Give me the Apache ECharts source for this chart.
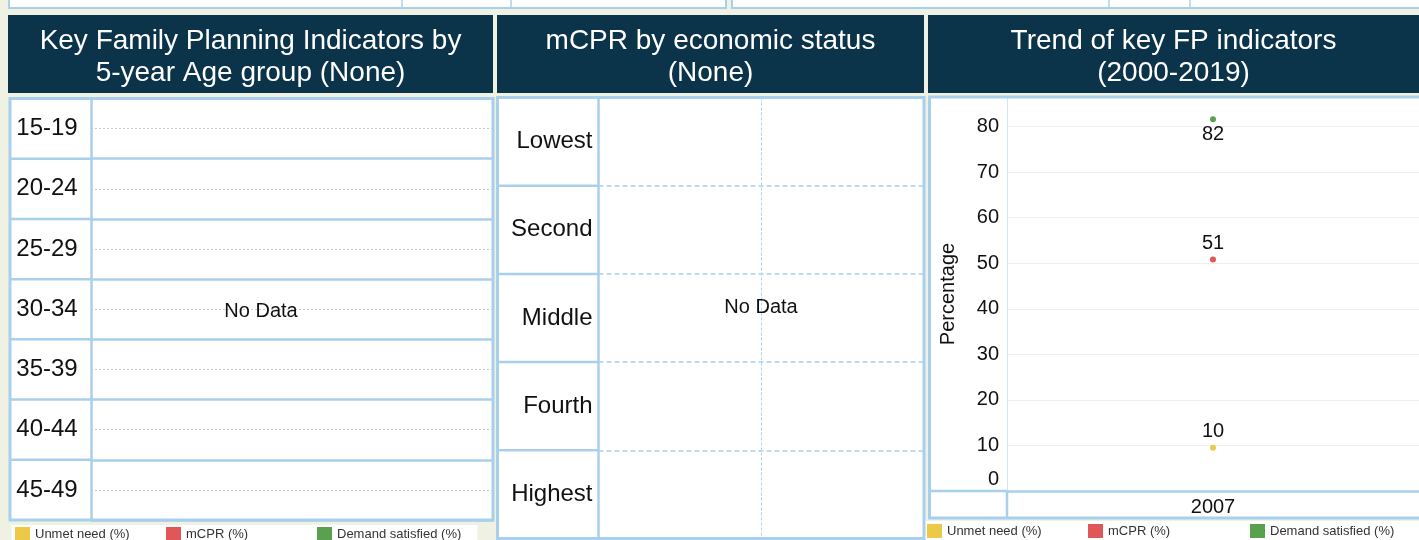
<!DOCTYPE html>
<html>
<head>
<meta charset="utf-8">
<title>Key FP indicators</title>
<script src="https://cdn.jsdelivr.net/npm/echarts@6/dist/echarts.min.js"></script>
<style>
html, body { margin: 0; padding: 0; background: #eff2e3; }
#main { width: 1419px; height: 540px; }
</style>
</head>
<body>
<div id="main"></div>
<script>
// data
var ageGroups = ['15-19', '20-24', '25-29', '30-34', '35-39', '40-44', '45-49'];
var wealthQuintiles = ['Lowest', 'Second', 'Middle', 'Fourth', 'Highest'];
var years = ['2007'];
var unmetNeed = [9.5];
var mcpr = [50.8];
var demandSatisfied = [81.6];
var seriesNames = ['Unmet need (%)', 'mCPR (%)', 'Demand satisfied (%)'];
var seriesColors = ['#edc948', '#e15759', '#59a14f'];

var FONT = '"Liberation Sans", Arial, sans-serif';
var BLUE = '#a8cfeb';
var NAVY = '#0b3349';
var INK = '#111111';

// panel boxes (layout only)
var L = { x0: 10, x1: 493, col: 91, top: 98.5, bottom: 520 };
var M = { x0: 497.5, x1: 924, col: 598.5, top: 97.5, bottom: 538.5 };
var R = { x0: 929.5, x1: 1419, col: 1007, top: 97, axis: 491, bottom: 518 };

var myChart = echarts.init(document.getElementById('main'));

function pair(arr) {
	return years.map(function (y, i) { return [y, arr[i]]; });
}

function pointLabel(pos, dist) {
	return {
		show: true, position: pos, distance: dist, fontSize: 20, color: INK,
		formatter: function (p) { return Math.round(p.value[1]); }
	};
}

// one legend block per entry so the spacing stays fixed
function legendRow(lefts, top) {
	return seriesNames.map(function (name, k) {
		return {
			data: [name], left: lefts[k], top: top, padding: 0, icon: 'rect',
			itemWidth: 15, itemHeight: 14, selectedMode: false,
			textStyle: { fontSize: 13, color: '#333' }
		};
	});
}

var graphics = [];

// strip of boxes cut off at the top
graphics.push({ type: 'rect', z: -5, shape: { x: 9, y: -4, width: 717, height: 12 }, style: { fill: '#fff', stroke: BLUE, lineWidth: 2 } });
graphics.push({ type: 'rect', z: -5, shape: { x: 732, y: -4, width: 700, height: 12 }, style: { fill: '#fff', stroke: BLUE, lineWidth: 2 } });
[402, 511, 1109, 1190].forEach(function (x) {
	graphics.push({ type: 'line', z: -4, shape: { x1: x, y1: 0, x2: x, y2: 8 }, style: { stroke: BLUE, lineWidth: 1.5 } });
});

// headers
var headers = [
	{ x0: 8, x1: 493, text: 'Key Family Planning Indicators by\n5-year Age group (None)' },
	{ x0: 497, x1: 924, text: 'mCPR by economic status\n(None)' },
	{ x0: 928, x1: 1419, text: 'Trend of key FP indicators\n(2000-2019)' }
];
headers.forEach(function (h) {
	graphics.push({ type: 'rect', z: -5, shape: { x: h.x0, y: 15, width: h.x1 - h.x0, height: 78 }, style: { fill: NAVY } });
	graphics.push({
		type: 'text', z: 60, x: (h.x0 + h.x1) / 2, y: 57,
		style: { text: h.text, fill: '#fff', fontSize: 28, fontFamily: FONT, align: 'center', verticalAlign: 'middle', lineHeight: 32 }
	});
});

// white panel backgrounds
graphics.push({ type: 'rect', z: -5, shape: { x: L.x0, y: L.top, width: L.x1 - L.x0, height: L.bottom - L.top }, style: { fill: '#fff' } });
graphics.push({ type: 'rect', z: -5, shape: { x: M.x0, y: M.top, width: M.x1 - M.x0, height: M.bottom - M.top }, style: { fill: '#fff' } });
graphics.push({ type: 'rect', z: -5, shape: { x: R.x0, y: R.top, width: 500, height: R.bottom - R.top }, style: { fill: '#fff' } });
// legend backgrounds
graphics.push({ type: 'rect', z: -5, shape: { x: 11.5, y: 525, width: 466, height: 20 }, style: { fill: '#fff' } });
graphics.push({ type: 'rect', z: -5, shape: { x: 925, y: 521, width: 500, height: 24 }, style: { fill: '#fff' } });

// row dividers in the label columns
var i, y;
for (i = 1; i < ageGroups.length; i++) {
	y = L.top + i * (L.bottom - L.top) / ageGroups.length;
	graphics.push({ type: 'line', z: 50, shape: { x1: L.x0, y1: y, x2: L.col, y2: y }, style: { stroke: BLUE, lineWidth: 2.5 } });
}
for (i = 1; i < wealthQuintiles.length; i++) {
	y = M.top + i * (M.bottom - M.top) / wealthQuintiles.length;
	graphics.push({ type: 'line', z: 50, shape: { x1: M.x0, y1: y, x2: M.col, y2: y }, style: { stroke: BLUE, lineWidth: 2.5 } });
}
// bottom row of the trend panel
graphics.push({ type: 'line', z: 50, shape: { x1: R.x0, y1: R.axis, x2: R.col, y2: R.axis }, style: { stroke: BLUE, lineWidth: 2.5 } });
graphics.push({ type: 'line', z: 50, shape: { x1: R.col, y1: R.axis, x2: R.col, y2: R.bottom }, style: { stroke: BLUE, lineWidth: 2.5 } });

// outer borders
graphics.push({ type: 'rect', z: 55, shape: { x: L.x0, y: L.top, width: L.x1 - L.x0, height: L.bottom - L.top }, style: { fill: 'none', stroke: BLUE, lineWidth: 3 } });
graphics.push({ type: 'rect', z: 55, shape: { x: M.x0, y: M.top, width: M.x1 - M.x0, height: M.bottom - M.top }, style: { fill: 'none', stroke: BLUE, lineWidth: 3 } });
graphics.push({ type: 'rect', z: 55, shape: { x: R.x0, y: R.top, width: 500, height: R.bottom - R.top }, style: { fill: 'none', stroke: BLUE, lineWidth: 3 } });

// empty panels
graphics.push({ type: 'text', z: 60, x: 261, y: 311, style: { text: 'No Data', fill: INK, fontSize: 20, fontFamily: FONT, align: 'center', verticalAlign: 'middle' } });
graphics.push({ type: 'text', z: 60, x: 761, y: 307, style: { text: 'No Data', fill: INK, fontSize: 20, fontFamily: FONT, align: 'center', verticalAlign: 'middle' } });

var option = {
	animation: false,
	textStyle: { fontFamily: FONT },
	graphic: graphics,
	grid: [
		{ left: L.col, top: L.top, width: L.x1 - L.col, height: L.bottom - L.top, outerBoundsMode: 'none' },
		{ left: M.col, top: M.top, width: M.x1 - M.col, height: M.bottom - M.top, outerBoundsMode: 'none' },
		{ left: R.col, top: R.top, width: R.x1 - R.col, height: R.axis - R.top, outerBoundsMode: 'none' }
	],
	xAxis: [
		{ gridIndex: 0, type: 'value', show: false },
		{
			gridIndex: 1, type: 'value', min: -1, max: 1, interval: 1,
			axisLine: { show: false }, axisTick: { show: false }, axisLabel: { show: false },
			splitLine: { show: true, lineStyle: { color: '#b3d4ee', type: [3, 2], width: 1 } }
		},
		{
			gridIndex: 2, type: 'category', data: years,
			axisLine: { show: true, lineStyle: { color: BLUE, width: 2.5 } },
			axisTick: { show: false },
			axisLabel: { fontSize: 20, color: INK, margin: 6 },
			splitLine: { show: false }
		}
	],
	yAxis: [
		{
			gridIndex: 0, type: 'category', data: ageGroups, inverse: true,
			axisLine: { show: true, onZero: false, lineStyle: { color: BLUE, width: 2.5 } },
			axisTick: { show: true, inside: true, alignWithLabel: true, length: L.x1 - L.col, lineStyle: { color: '#c8c8c8', type: [2, 2], width: 1 } },
			axisLabel: { fontSize: 24, color: INK, align: 'center', margin: L.col - 47 },
			splitLine: { show: true, lineStyle: { color: BLUE, width: 2.5 } }
		},
		{
			gridIndex: 1, type: 'category', data: wealthQuintiles, inverse: true,
			axisLine: { show: true, onZero: false, lineStyle: { color: BLUE, width: 2.5 } },
			axisTick: { show: false },
			axisLabel: { fontSize: 24, color: INK, margin: 6 },
			splitLine: { show: true, lineStyle: { color: '#a9d0ec', type: [5, 3], width: 1.5 } }
		},
		{
			gridIndex: 2, type: 'value', min: 0, max: 86.5, interval: 10,
			name: 'Percentage', nameLocation: 'middle', nameGap: 49, nameRotate: 90,
			nameTextStyle: { fontSize: 20, color: INK },
			axisLine: { show: true, lineStyle: { color: '#d3e5f3', width: 1 } },
			axisTick: { show: false },
			axisLabel: {
				fontSize: 20, color: INK, margin: 8, showMaxLabel: false,
				formatter: function (v) { return v === 0 ? '{zero|0}' : String(v); },
				rich: { zero: { fontSize: 20, color: INK, padding: [0, 0, 24, 0] } }
			},
			splitLine: { show: true, lineStyle: { color: '#eeeeee', width: 1 } }
		}
	],
	legend: legendRow([15, 166, 317], 527).concat(legendRow([927, 1088, 1250], 524)),
	series: [
		{
			name: seriesNames[0], type: 'scatter', xAxisIndex: 2, yAxisIndex: 2,
			data: pair(unmetNeed), symbolSize: 6, itemStyle: { color: seriesColors[0], opacity: 1 },
			label: pointLabel('top', 3)
		},
		{
			name: seriesNames[1], type: 'scatter', xAxisIndex: 2, yAxisIndex: 2,
			data: pair(mcpr), symbolSize: 6, itemStyle: { color: seriesColors[1], opacity: 1 },
			label: pointLabel('top', 3)
		},
		{
			name: seriesNames[2], type: 'scatter', xAxisIndex: 2, yAxisIndex: 2,
			data: pair(demandSatisfied), symbolSize: 6, itemStyle: { color: seriesColors[2], opacity: 1 },
			label: pointLabel('bottom', 2)
		}
	]
};

myChart.setOption(option);
</script>
</body>
</html>
